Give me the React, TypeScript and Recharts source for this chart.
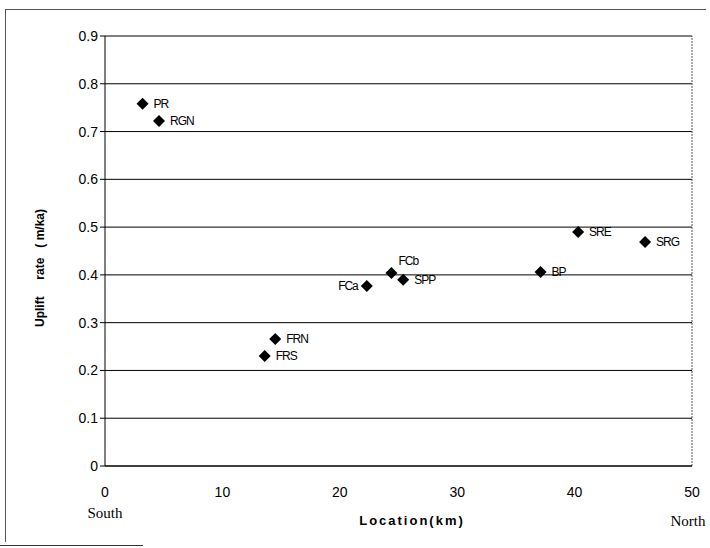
import React from "react";
import {
  ScatterChart,
  Scatter,
  XAxis,
  YAxis,
  CartesianGrid,
  ReferenceLine,
  LabelList,
} from "recharts";

const siteNames = ["PR", "RGN", "FRN", "FRS", "FCa", "FCb", "SPP", "BP", "SRE", "SRG"];
const locationKm = [3.2, 4.6, 14.5, 13.6, 22.3, 24.4, 25.4, 37.1, 40.3, 46.0];
const upliftRate = [0.758, 0.722, 0.266, 0.23, 0.377, 0.404, 0.39, 0.406, 0.49, 0.469];

const xTicks = [0, 10, 20, 30, 40, 50];
const yTicks = [0, 0.1, 0.2, 0.3, 0.4, 0.5, 0.6, 0.7, 0.8, 0.9];

const data = siteNames.map((name, i) => ({ name, x: locationKm[i], y: upliftRate[i] }));

const Diamond = (props: any) => {
  const { cx, cy } = props;
  const r = 6;
  return (
    <polygon
      points={`${cx},${cy - r} ${cx + r},${cy} ${cx},${cy + r} ${cx - r},${cy}`}
      fill="#000"
    />
  );
};

const SiteLabel = (props: any) => {
  const { x, y, width, height, value } = props;
  const cx = x + width / 2;
  const cy = y + height / 2;
  let tx = cx + 11;
  let ty = cy + 4;
  let anchor: "start" | "end" = "start";
  if (value === "FCa") {
    tx = cx - 9;
    anchor = "end";
  } else if (value === "FCb") {
    tx = cx + 7;
    ty = cy - 8;
  }
  return (
    <text
      x={tx}
      y={ty}
      textAnchor={anchor}
      fontSize={12}
      fontFamily="Liberation Sans, Arial, sans-serif"
      letterSpacing={-1}
      fill="#000"
    >
      {value}
    </text>
  );
};

const tickFont = { fontSize: 14, fontFamily: "Liberation Sans, Arial, sans-serif", fill: "#000" };

export default function App() {
  return (
    <div
      style={{
        position: "absolute",
        left: 0,
        top: 0,
        width: 710,
        height: 548,
        background: "#fff",
      }}
    >
      <div
        style={{
          position: "absolute",
          left: 5,
          top: 9,
          width: 700,
          height: 532,
          borderTop: "1px solid #555",
          borderLeft: "1px solid #555",
        }}
      />
      <div
        style={{
          position: "absolute",
          left: 0,
          top: 545,
          width: 143,
          height: 0,
          borderTop: "1px solid #333",
        }}
      />
      <ScatterChart
        width={710}
        height={548}
        margin={{ top: 36, right: 18, left: 45, bottom: 52 }}
      >
        <CartesianGrid horizontal vertical={false} stroke="#000" strokeOpacity={1} />
        <XAxis
          type="number"
          dataKey="x"
          domain={[0, 50]}
          ticks={xTicks}
          height={30}
          axisLine={{ stroke: "#000" }}
          tickLine={false}
          tick={tickFont}
          tickMargin={15}
        />
        <YAxis
          type="number"
          dataKey="y"
          domain={[0, 0.9]}
          ticks={yTicks}
          width={60}
          axisLine={{ stroke: "#000" }}
          tickLine={{ stroke: "#000" }}
          tickSize={5}
          tick={tickFont}
          tickFormatter={(v: number) => (v === 0 ? "0" : v.toFixed(1))}
        />
        <ReferenceLine x={50} stroke="#555" strokeDasharray="2 1" />
        <Scatter data={data} shape={<Diamond />} isAnimationActive={false}>
          <LabelList dataKey="name" content={<SiteLabel />} />
        </Scatter>
        <text
          x={412}
          y={525}
          textAnchor="middle"
          fontSize={13}
          fontWeight="bold"
          letterSpacing={2}
          fontFamily="Liberation Sans, Arial, sans-serif"
          fill="#000"
        >
          Location(km)
        </text>
        <text
          x={105}
          y={518}
          textAnchor="middle"
          fontSize={15}
          fontFamily="Liberation Serif, serif"
          fill="#000"
        >
          South
        </text>
        <text
          x={688}
          y={526}
          textAnchor="middle"
          fontSize={15}
          fontFamily="Liberation Serif, serif"
          fill="#000"
        >
          North
        </text>
        <text
          x={44}
          y={268}
          transform="rotate(-90 44 268)"
          textAnchor="middle"
          fontSize={12}
          fontWeight="bold"
          fontFamily="Liberation Sans, Arial, sans-serif"
          fill="#000"
          style={{ whiteSpace: "pre" }}
        >
          {"Uplift     rate   ( m/ka)"}
        </text>
      </ScatterChart>
    </div>
  );
}
